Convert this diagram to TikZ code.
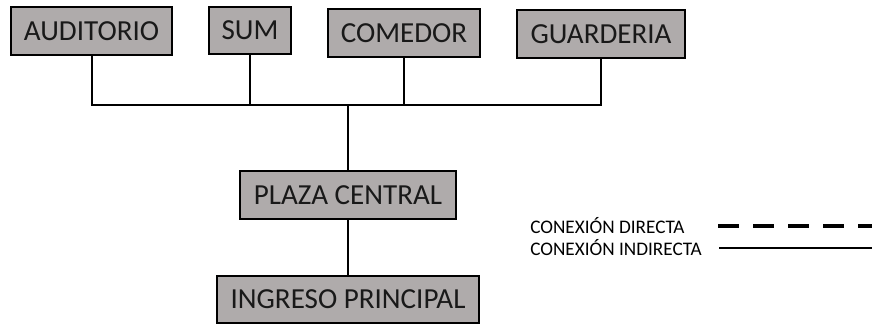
\documentclass[tikz,border=0pt]{standalone}
\usepackage{fontspec}
\setmainfont{Carlito}
\definecolor{boxgray}{RGB}{175,171,171}
\begin{document}
\begin{tikzpicture}[x=0.75pt,y=-0.75pt,
  room/.style={draw=black,line width=1.5pt,fill=boxgray,inner sep=0pt,font=\fontsize{21.8}{24}\selectfont,text=black!90},
  conn/.style={line width=1.5pt},
  legtext/.style={anchor=west,inner sep=0pt,font=\fontsize{14.4}{16}\selectfont}]
\useasboundingbox (0,0) rectangle (872,325);
\node[room,minimum width=161*0.75pt,minimum height=48*0.75pt] (aud) at (91.5,31) {AUDITORIO};
\node[room,minimum width=82*0.75pt,minimum height=47*0.75pt] (sum) at (250,30.5) {SUM};
\node[room,minimum width=152*0.75pt,minimum height=48*0.75pt] (com) at (404,33) {COMEDOR};
\node[room,minimum width=168*0.75pt,minimum height=48*0.75pt] (gua) at (601,34) {GUARDERIA};
\node[room,minimum width=216*0.75pt,minimum height=48*0.75pt] (pla) at (348,195) {PLAZA CENTRAL};
\node[room,minimum width=262*0.75pt,minimum height=47*0.75pt] (ing) at (348,299.5) {INGRESO PRINCIPAL};
\coordinate (bus) at (348,105);
\draw[conn] (aud.south) |- (bus) -| (gua.south);
\draw[conn] (sum.south) -- (sum.south |- bus);
\draw[conn] (com.south) -- (com.south |- bus);
\draw[conn] (bus) -- (pla.north);
\draw[conn] (pla.south) -- (ing.north);
\node[legtext] (ld) at (530,226) {CONEXIÓN DIRECTA};
\node[legtext] (li) at (530,248) {CONEXIÓN INDIRECTA};
\coordinate (ld1) at (718,226);
\coordinate (ld2) at (872,226);
\coordinate (li1) at (719,248);
\coordinate (li2) at (872,248);
\draw[line width=3pt,dash pattern=on 15.75pt off 10.5pt] (ld1) -- (ld2);
\draw[line width=1.5pt] (li1) -- (li2);
\end{tikzpicture}
\end{document}
